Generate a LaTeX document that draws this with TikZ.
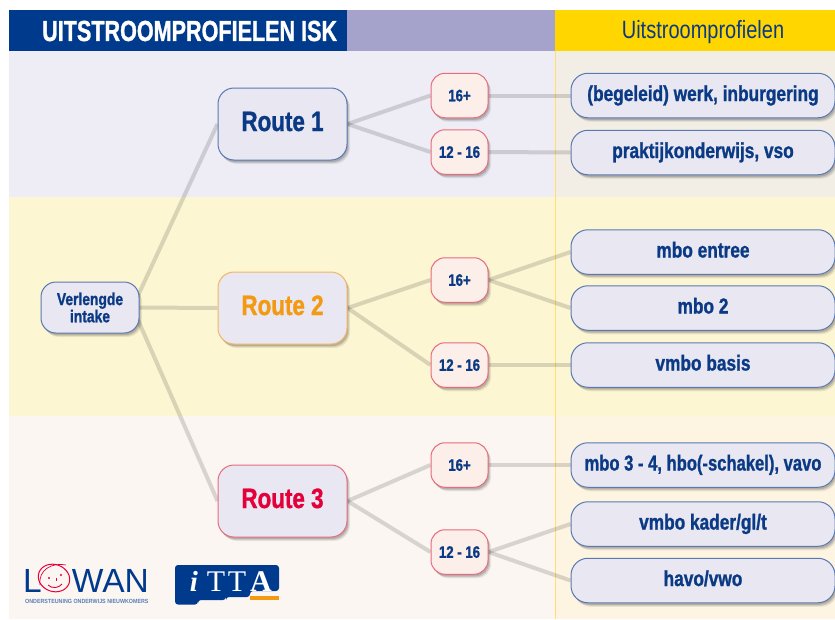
\documentclass[tikz,border=0pt]{standalone}
\usepackage{fontspec}
\setmainfont[FakeStretch=0.8,BoldFeatures={FakeBold=1.1}]{Liberation Sans}
\newfontfamily\wide{Liberation Sans}
\newfontfamily\serifl{Liberation Serif}
\usetikzlibrary{shadows,backgrounds,calc}
\definecolor{navy}{HTML}{0B3A85}
\definecolor{headblue}{HTML}{003A8C}
\definecolor{lav}{HTML}{A5A3CC}
\definecolor{gold}{HTML}{FFD600}
\definecolor{goldline}{HTML}{FFE06E}
\definecolor{bandA}{HTML}{EEEDF5}
\definecolor{bandAr}{HTML}{F2EEE6}
\definecolor{bandB}{HTML}{FDF6D3}
\definecolor{bandBr}{HTML}{FDF6D3}
\definecolor{bandC}{HTML}{FBF6F2}
\definecolor{bandCr}{HTML}{FDF5E2}
\definecolor{boxfill}{HTML}{E8E7F2}
\definecolor{blueline}{HTML}{5A79B0}
\definecolor{routeorange}{HTML}{F39A12}
\definecolor{orangeline}{HTML}{F2B565}
\definecolor{routered}{HTML}{E4003A}
\definecolor{pinkline}{HTML}{E86A7E}
\definecolor{pinkfill}{HTML}{FCEEE8}
\tikzset{
  softshadow/.style={
    drop shadow={shadow xshift=3pt,shadow yshift=-4pt,fill=black,opacity=.07},
    drop shadow={shadow xshift=2.2pt,shadow yshift=-3pt,fill=black,opacity=.1},
    drop shadow={shadow xshift=1.2pt,shadow yshift=-2pt,fill=black,opacity=.14}},
  basebox/.style={draw=blueline,line width=1pt,fill=boxfill,softshadow,inner sep=0pt,text=navy},
  routebox/.style={basebox,rounded corners=16pt,minimum width=129pt,minimum height=72pt,text height=20pt,text depth=6pt,font=\bfseries\fontsize{28}{30}\selectfont},
  introbox/.style={basebox,rounded corners=15pt,minimum width=98pt,minimum height=51pt,align=center,font=\bfseries\fontsize{17.3}{16}\selectfont},
  agebox/.style={basebox,draw=pinkline,fill=pinkfill,rounded corners=14pt,minimum width=57pt,minimum height=44.5pt,text height=14pt,text depth=2.5pt,font=\bfseries\fontsize{16.5}{18}\selectfont},
  profbox/.style={basebox,rounded corners=17pt,minimum width=264pt,minimum height=44.5pt,text height=16pt,text depth=5pt,font=\bfseries\fontsize{21.6}{24}\selectfont},
  connector/.style={draw=black,line width=4pt,opacity=.14},
}
\begin{document}
\begin{tikzpicture}[x=1pt,y=-1pt]
\useasboundingbox (0,0) rectangle (835,619);
\begin{scope}[on background layer]
  \fill[white] (0,0) rectangle (835,619);
  \fill[bandA] (9,51) rectangle (555,197);
  \fill[bandAr] (555,51) rectangle (835,197);
  \fill[bandB] (9,197) rectangle (555,416);
  \fill[bandBr] (555,197) rectangle (835,416);
  \fill[bandC] (9,416) rectangle (555,619);
  \fill[bandCr] (555,416) rectangle (835,619);
  \draw[goldline,line width=.8pt] (555,51) -- (555,619);
  \fill[headblue] (9,10) rectangle (347,51);
  \fill[lav] (347,10) rectangle (555,51);
  \fill[gold] (555,10) rectangle (835,51);
\end{scope}
\node[text=white,font=\bfseries\fontsize{29}{31}\selectfont,anchor=west,inner sep=0pt] (title) at (42,31) {\scalebox{.93}[1]{UITSTROOMPROFIELEN ISK}};
\node[text=navy,font=\fontsize{25}{27}\selectfont,inner sep=0pt] (ptitle) at (703,32) {Uitstroomprofielen};

\node[introbox] (v) at (90,307.5) {Verlengde\\intake};
\node[routebox] (r1) at (282.5,124) {Route 1};
\node[routebox,draw=orangeline,text=routeorange] (r2) at (282.5,308) {Route 2};
\node[routebox,draw=pinkline,text=routered] (r3) at (282.5,501) {Route 3};

\node[agebox] (a1) at (459.5,95.5) {16+};
\node[agebox] (a2) at (459.5,152) {12 - 16};
\node[agebox] (a3) at (459.5,280) {16+};
\node[agebox] (a4) at (459.5,365) {12 - 16};
\node[agebox] (a5) at (459.5,465) {16+};
\node[agebox] (a6) at (459.5,552) {12 - 16};

\node[profbox] (p1) at (703,95.5) {(begeleid) werk, inburgering};
\node[profbox] (p2) at (703,152.5) {praktijkonderwijs, vso};
\node[profbox] (p3) at (703,252) {mbo entree};
\node[profbox] (p4) at (703,308) {mbo 2};
\node[profbox] (p5) at (703,365) {vmbo basis};
\node[profbox] (p6) at (703,465) {\scalebox{.96}[1]{mbo 3 - 4, hbo(-schakel), vavo}};
\node[profbox] (p7) at (703,524) {vmbo kader/gl/t};
\node[profbox] (p8) at (703,580.5) {havo/vwo};

\begin{scope}[on background layer]
  \draw[connector] ([xshift=-7pt]v.east) -- (r1.west);
  \draw[connector] (v.east) -- (r2.west);
  \draw[connector] ([xshift=-7pt]v.east) -- (r3.west);
  \draw[connector] (r1.east) -- (a1.west);
  \draw[connector] (r1.east) -- (a2.west);
  \draw[connector] (r2.east) -- (a3.west);
  \draw[connector] (r2.east) -- (a4.west);
  \draw[connector] (r3.east) -- (a5.west);
  \draw[connector] (r3.east) -- (a6.west);
  \draw[connector] (a1.east) -- (p1.west);
  \draw[connector] (a2.east) -- (p2.west);
  \draw[connector] (a3.east) -- (p3.west);
  \draw[connector] (a3.east) -- (p4.west);
  \draw[connector] (a4.east) -- (p5.west);
  \draw[connector] (a5.east) -- (p6.west);
  \draw[connector] (a6.east) -- (p7.west);
  \draw[connector] (a6.east) -- (p8.west);
\end{scope}

% LOWAN logo
\node[text=headblue,font=\wide\fontsize{33.5}{34}\selectfont,anchor=base west,inner sep=0pt] (lL) at (23,592) {L};
\node[text=headblue,font=\wide\fontsize{33.5}{34}\selectfont,anchor=base east,inner sep=0pt] (lW) at (149,592) {WAN};
\draw[routered,line width=1pt,rotate around={-20:(54,578)}] (54,578) ellipse[x radius=16,y radius=13.5];
\draw[routered,line width=.7pt] (40,585) .. controls (38,570) and (52,562) .. (66,565);
\fill[routered] (49,578) circle (1.2) (61,575) circle (1.2);
\draw[routered,line width=.9pt] (48,585) .. controls (52,589) and (59,588) .. (62,584);
\draw[routered,line width=.8pt] (56,578) -- (56,581);
\node[text=headblue!65!white,font=\wide\bfseries\fontsize{6}{7}\selectfont,anchor=base west,inner sep=0pt] (lsub) at (25,603.5) {\scalebox{.89}[1]{ONDERSTEUNING ONDERWIJS NIEUWKOMERS}};
% iTTA logo
\fill[headblue,rounded corners=3pt] (175,565) -- (279,565) -- (279,591) -- (250,591) -- (250,597) -- (226,597) -- (226,600) -- (198,600) -- (198,604.5) -- (175,604.5) -- cycle;
\fill[routeorange] (250,596) rectangle (279,600);
\node[text=white,font=\serifl\bfseries\itshape\fontsize{29}{29}\selectfont,anchor=base,inner sep=0pt] (li) at (194,591) {i};
\node[text=white,font=\serifl\fontsize{30}{30}\selectfont,anchor=base,inner sep=0pt] (lt1) at (216,591) {T};
\node[text=white,font=\serifl\fontsize{30}{30}\selectfont,anchor=base,inner sep=0pt] (lt2) at (237,591) {T};
\node[text=white,font=\serifl\bfseries\fontsize{30}{30}\selectfont,anchor=base,inner sep=0pt] (lt3) at (261,591) {A};
\end{tikzpicture}
\end{document}
